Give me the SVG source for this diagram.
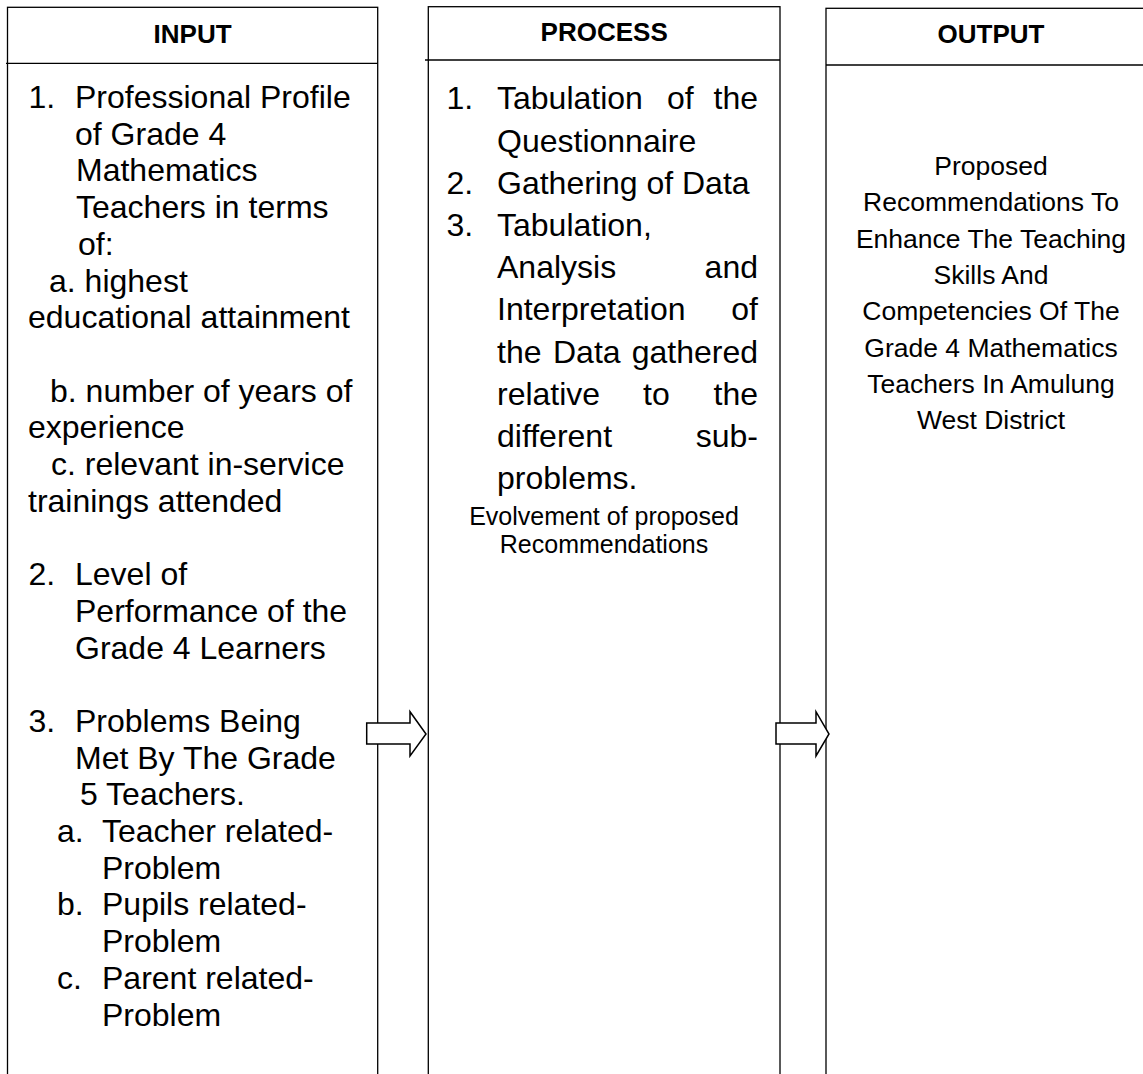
<svg xmlns="http://www.w3.org/2000/svg" width="1143" height="1074" viewBox="0 0 1143 1074">
<style>
.box{fill:none;stroke:#000;stroke-width:1.3}
.div{stroke:#000;stroke-width:1.3}
.hd{font-family:"Liberation Sans",Arial,sans-serif;font-weight:bold;font-size:26px;fill:#000;text-anchor:middle}
.t{font-family:"Liberation Sans",Arial,sans-serif;font-size:32px;fill:#000}
.e{text-anchor:end}
.s{font-family:"Liberation Sans",Arial,sans-serif;font-size:25px;fill:#000;text-anchor:middle}
.o{font-family:"Liberation Sans",Arial,sans-serif;font-size:26.5px;fill:#000;text-anchor:middle}
.arrow{fill:#fff;stroke:#000;stroke-width:1.5;stroke-linejoin:miter}
</style>
<rect width="1143" height="1074" fill="#fff"/>
<g id="input">
<rect class="box" x="7.5" y="7.3" width="370.2" height="1090"/>
<line class="div" x1="6" y1="63.3" x2="377.7" y2="63.3"/>
<text class="hd" x="192.6" y="42.5">INPUT</text>
<text class="t" x="28.5" y="108">1.</text><text class="t" x="75" y="108">Professional Profile</text>
<text class="t" x="75" y="144.7">of Grade 4</text>
<text class="t" x="76" y="181.4">Mathematics</text>
<text class="t" x="76" y="218.1">Teachers in terms</text>
<text class="t" x="78" y="254.8">of:</text>
<text class="t" x="49" y="291.5">a. highest</text>
<text class="t" x="28" y="328.2">educational attainment</text>
<text class="t" x="50" y="401.6">b. number of years of</text>
<text class="t" x="28" y="438.3">experience</text>
<text class="t" x="51" y="475">c. relevant in-service</text>
<text class="t" x="28" y="511.7">trainings attended</text>
<text class="t" x="28.5" y="585.1">2.</text><text class="t" x="75" y="585.1">Level of</text>
<text class="t" x="75" y="621.8">Performance of the</text>
<text class="t" x="75" y="658.5">Grade 4 Learners</text>
<text class="t" x="28.5" y="731.9">3.</text><text class="t" x="75" y="731.9">Problems Being</text>
<text class="t" x="75" y="768.6">Met By The Grade</text>
<text class="t" x="80" y="805.3">5 Teachers.</text>
<text class="t" x="57" y="842">a.</text><text class="t" x="102" y="842">Teacher related-</text>
<text class="t" x="102" y="878.7">Problem</text>
<text class="t" x="57" y="915.4">b.</text><text class="t" x="102" y="915.4">Pupils related-</text>
<text class="t" x="102" y="952.1">Problem</text>
<text class="t" x="57" y="988.8">c.</text><text class="t" x="102" y="988.8">Parent related-</text>
<text class="t" x="102" y="1025.5">Problem</text>
</g>
<g id="process">
<rect class="box" x="428.3" y="6.7" width="351.7" height="1090"/>
<line class="div" x1="425" y1="60" x2="780" y2="60"/>
<text class="hd" x="604.2" y="41">PROCESS</text>
<text class="t" x="446.5" y="109.3">1.</text><text class="t" x="497" y="109.3">Tabulation</text><text class="t" x="667" y="109.3">of</text><text class="t e" x="758" y="109.3">the</text>
<text class="t" x="497" y="151.5">Questionnaire</text>
<text class="t" x="446.5" y="193.7">2.</text><text class="t" x="497" y="193.7">Gathering of Data</text>
<text class="t" x="446.5" y="235.9">3.</text><text class="t" x="497" y="235.9">Tabulation,</text>
<text class="t" x="497" y="278.1">Analysis</text><text class="t e" x="758" y="278.1">and</text>
<text class="t" x="497" y="320.3">Interpretation</text><text class="t e" x="758" y="320.3">of</text>
<text class="t" x="497" y="362.5">the</text><text class="t" x="553" y="362.5">Data</text><text class="t e" x="758" y="362.5">gathered</text>
<text class="t" x="497" y="404.7">relative</text><text class="t" x="643" y="404.7">to</text><text class="t e" x="758" y="404.7">the</text>
<text class="t" x="497" y="446.9">different</text><text class="t e" x="758" y="446.9">sub-</text>
<text class="t" x="497" y="489.1">problems.</text>
<text class="s" x="604" y="525">Evolvement of proposed</text>
<text class="s" x="604" y="553">Recommendations</text>
</g>
<g id="output">
<rect class="box" x="826" y="8.3" width="330" height="1090"/>
<line class="div" x1="826" y1="65" x2="1143" y2="65"/>
<text class="hd" x="991" y="42.5">OUTPUT</text>
<text class="o" x="991" y="175">Proposed</text>
<text class="o" x="991" y="211.3">Recommendations To</text>
<text class="o" x="991" y="247.6">Enhance The Teaching</text>
<text class="o" x="991" y="283.9">Skills And</text>
<text class="o" x="991" y="320.2">Competencies Of The</text>
<text class="o" x="991" y="356.5">Grade 4 Mathematics</text>
<text class="o" x="991" y="392.8">Teachers In Amulung</text>
<text class="o" x="991" y="429.1">West District</text>
</g>
<g id="connectors">
<polygon class="arrow" points="366.7,723 410,723 410,711.7 426,734 410,756 410,744 366.7,744"/>
<polygon class="arrow" points="776,723 816,723 816,711.7 829,734 816,756 816,744 776,744"/>
</g>
</svg>
